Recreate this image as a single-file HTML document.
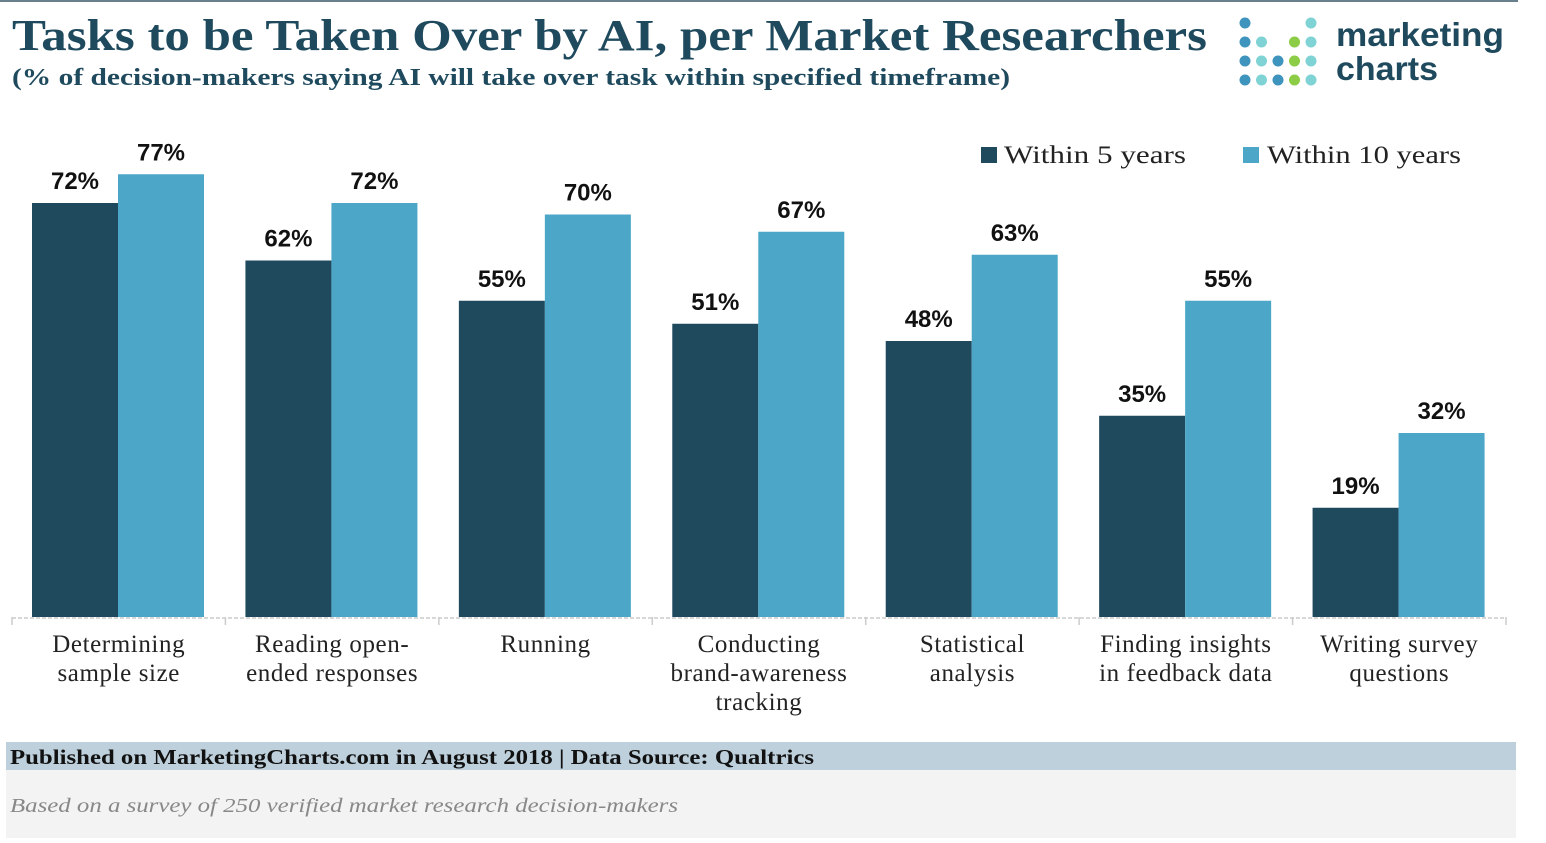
<!DOCTYPE html>
<html><head><meta charset="utf-8"><style>
body{margin:0;width:1546px;height:838px;overflow:hidden;background:#fff;font-family:"Liberation Sans",sans-serif}
</style></head><body>
<svg id="chart" width="1546" height="838" xmlns="http://www.w3.org/2000/svg">
<rect x="0" y="0" width="1518" height="2" fill="#6a7f8c"/>
<text x="12" y="50" font-size="44" font-weight="bold" fill="#1f4a5e" font-family="Liberation Serif, serif" textLength="1195" lengthAdjust="spacingAndGlyphs">Tasks to be Taken Over by AI, per Market Researchers</text>
<text x="12" y="85" font-size="24" font-weight="bold" fill="#1f4a5e" font-family="Liberation Serif, serif" textLength="998" lengthAdjust="spacingAndGlyphs">(% of decision-makers saying AI will take over task within specified timeframe)</text>
<g id="logo"></g>
<text x="1336" y="46" font-size="33" font-weight="bold" fill="#1f4a5e" textLength="168" lengthAdjust="spacingAndGlyphs">marketing</text>
<text x="1336" y="80" font-size="33" font-weight="bold" fill="#1f4a5e" textLength="102" lengthAdjust="spacingAndGlyphs">charts</text>
<rect x="981" y="147" width="16" height="16" fill="#1f4a5e"/>
<text x="1004" y="163" font-size="25" fill="#222" font-family="Liberation Serif, serif" textLength="182" lengthAdjust="spacingAndGlyphs">Within 5 years</text>
<rect x="1243" y="147" width="16" height="16" fill="#4ba6c8"/>
<text x="1267" y="163" font-size="25" fill="#222" font-family="Liberation Serif, serif" textLength="194" lengthAdjust="spacingAndGlyphs">Within 10 years</text>
<g id="plot"></g>
<rect x="6" y="742" width="1510" height="28" fill="#bed0dc"/>
<rect x="6" y="770" width="1510" height="68" fill="#f3f3f3"/>
<text x="10" y="764" font-size="21" font-weight="bold" fill="#111" font-family="Liberation Serif, serif" textLength="804" lengthAdjust="spacingAndGlyphs">Published on MarketingCharts.com in August 2018 | Data Source: Qualtrics</text>
<text x="10" y="812" font-size="20" font-style="italic" fill="#888" font-family="Liberation Serif, serif" textLength="668" lengthAdjust="spacingAndGlyphs">Based on a survey of 250 verified market research decision-makers</text>
</svg>
<script>
const categories=[["Determining","sample size"],["Reading open-","ended responses"],["Running"],["Conducting","brand-awareness","tracking"],["Statistical","analysis"],["Finding insights","in feedback data"],["Writing survey","questions"]];
const within5=[72,62,55,51,48,35,19];
const within10=[77,72,70,67,63,55,32];
const NS="http://www.w3.org/2000/svg";
const plot=document.getElementById('plot');
const x0=12,x1=1506,base=617,ppu=5.75,step=(x1-x0)/categories.length,bw=86;
const y=v=>base-v*ppu;
function mk(t,a){const e=document.createElementNS(NS,t);for(const k in a)e.setAttribute(k,a[k]);plot.appendChild(e);return e;}
const ax=mk('line',{x1:x0,y1:base+1,x2:x1,y2:base+1,stroke:'#ccc','stroke-width':1.5,'stroke-dasharray':'4,2'});


for(let i=0;i<=categories.length;i++){const t=mk('line',{x1:x0+i*step,y1:base,x2:x0+i*step,y2:base+8,stroke:'#ccc','stroke-width':1.5});

}
categories.forEach((c,i)=>{
 const gx=x0+i*step+20;
 [[within5[i],'#1f4a5e','bar-5yr'],[within10[i],'#4ba6c8','bar-10yr']].forEach(([v,col,nm],j)=>{
  const bx=gx+j*bw;
  const r=mk('rect',{x:bx,y:y(v),width:bw,height:base-y(v),fill:col});
  
  
  const t=mk('text',{x:bx+bw/2,y:y(v)-14,'text-anchor':'middle','font-size':24,'font-weight':'bold',fill:'#111'});
  t.textContent=v+'%';
  
  
 });
 c.forEach((ln,k)=>{
  const t=mk('text',{x:x0+i*step+step/2,y:652+k*29,'text-anchor':'middle','font-size':25,'letter-spacing':0.6,fill:'#222','font-family':'Liberation Serif, serif'});
  t.textContent=ln;
  
  
 });
});
const logo=document.getElementById('logo');
const cols=[[0,1,2,3],[1,2,3],[2,3],[1,2,3],[0,1,2,3]];
const colors=['#3e94bd','#7fd3d4','#3e94bd','#8ccc46','#7fd3d4'];
cols.forEach((rows,ci)=>rows.forEach(r=>{const c=document.createElementNS(NS,'circle');
c.setAttribute('cx',1245+ci*16.5);c.setAttribute('cy',23+r*19);c.setAttribute('r',5.5);c.setAttribute('fill',colors[ci]);


logo.appendChild(c);}));
</script>
</body></html>
